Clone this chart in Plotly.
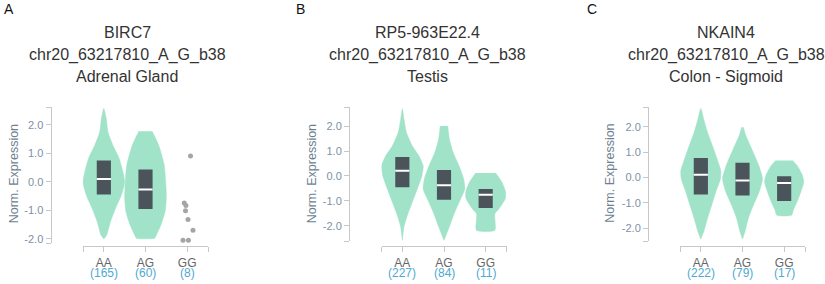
import plotly.graph_objects as go

# ---------------- data ----------------
genotypes = ["AA", "AG", "GG"]
titles_A = ["BIRC7", "chr20_63217810_A_G_b38", "Adrenal Gland"]
titles_B = ["RP5-963E22.4", "chr20_63217810_A_G_b38", "Testis"]
titles_C = ["NKAIN4", "chr20_63217810_A_G_b38", "Colon - Sigmoid"]
counts_A = [165, 60, 8]
counts_B = [227, 84, 11]
counts_C = [222, 79, 17]
y_ticks = [-2, -1, 0, 1, 2]
y_tick_labels = ["-2.0", "-1.0", "0.0", "1.0", "2.0"]

# violin outlines: expression level and half width (in category units)
vA_AA_y = [2.57, 2.20, 1.74, 1.27, 0.81, 0.0, -0.47, -0.93, -1.39, -1.86, -2.0]
vA_AA_w = [0, 0.06, 0.10, 0.22, 0.37, 0.50, 0.42, 0.28, 0.16, 0.07, 0]
vA_AG_y = [1.77, 1.27, 0.58, -0.12, -0.58, -1.04, -1.51, -1.86, -1.97]
vA_AG_w = [0.16, 0.32, 0.45, 0.49, 0.50, 0.47, 0.37, 0.26, 0.22]

vB_AA_y = [2.71, 2.29, 1.75, 1.21, 0.81, 0.41, 0.01, -0.52, -1.05, -1.59, -2.05, -2.59]
vB_AA_w = [0, 0.04, 0.10, 0.24, 0.40, 0.50, 0.47, 0.36, 0.24, 0.12, 0.04, 0]
vB_AG_y = [2.01, 1.48, 0.95, 0.41, -0.11, -0.52, -0.92, -1.45, -1.99, -2.59]
vB_AG_w = [0.09, 0.13, 0.22, 0.36, 0.47, 0.50, 0.40, 0.26, 0.14, 0]
vB_GG_y = [0.12, -0.25, -0.65, -0.92, -1.32, -1.52, -1.72, -2.19]
vB_GG_w = [0.24, 0.39, 0.48, 0.47, 0.32, 0.22, 0.22, 0.22]

vC_AA_y = [2.72, 2.30, 1.78, 1.25, 0.73, 0.27, -0.05, -0.57, -1.10, -1.62, -2.14, -2.43]
vC_AA_w = [0, 0.07, 0.16, 0.28, 0.39, 0.48, 0.47, 0.36, 0.26, 0.16, 0.07, 0]
vC_AG_y = [1.98, 1.65, 1.13, 0.47, -0.05, -0.57, -1.10, -1.62, -2.14, -2.43]
vC_AG_w = [0.02, 0.08, 0.22, 0.39, 0.48, 0.40, 0.26, 0.14, 0.06, 0]
vC_GG_y = [0.67, 0.47, 0.08, -0.18, -0.57, -0.96, -1.29, -1.49]
vC_GG_w = [0.20, 0.31, 0.44, 0.47, 0.40, 0.31, 0.22, 0.18]

# box statistics (q1, median, q3)
box_A_q1 = [-0.44, -0.95]
box_A_med = [0.10, -0.27]
box_A_q3 = [0.75, 0.43]
box_B_q1 = [-0.45, -0.96, -1.29]
box_B_med = [0.21, -0.37, -0.76]
box_B_q3 = [0.77, 0.24, -0.52]
box_C_q1 = [-0.67, -0.71, -0.93]
box_C_med = [0.11, -0.12, -0.22]
box_C_q3 = [0.77, 0.58, 0.05]

# GG samples in panel A (too few for a violin)
ptsA_GG_y = [0.90, -0.74, -0.83, -1.01, -1.32, -1.69, -2.04, -2.04]
ptsA_GG_dx = [0.08, -0.07, -0.03, -0.04, 0.02, 0.14, -0.10, 0.03]

# ---------------- styling / layout ----------------
W, H = 825, 284
FONT = "Liberation Sans, Arial, sans-serif"
MINT = "#a0e3c9"
DARK = "#4b535b"
AXIS = "#c8c8c8"
BOX_HALF = 0.17


def fx(p):
    return p / W


def fy(p):
    return 1 - p / H


panels = [
    dict(letter="A", letter_x=9, titles=titles_A, title_x=127, counts=counts_A,
         xdom=(83, 208), ydom=(108, 245), yaxis_x=50.5, yrange=(-2.15, 2.61), ylab_x=13.5,
         violins=[(0, vA_AA_y, vA_AA_w), (1, vA_AG_y, vA_AG_w)],
         boxes=([0, 1], box_A_q1, box_A_med, box_A_q3),
         points=(2, ptsA_GG_dx, ptsA_GG_y)),
    dict(letter="B", letter_x=300, titles=titles_B, title_x=427, counts=counts_B,
         xdom=(381.5, 506.5), ydom=(108, 243), yaxis_x=349, yrange=(-2.63, 2.77), ylab_x=311.5,
         violins=[(0, vB_AA_y, vB_AA_w), (1, vB_AG_y, vB_AG_w), (2, vB_GG_y, vB_GG_w)],
         boxes=([0, 1, 2], box_B_q1, box_B_med, box_B_q3), points=None),
    dict(letter="C", letter_x=592, titles=titles_C, title_x=726, counts=counts_C,
         xdom=(680, 805), ydom=(108, 243), yaxis_x=648, yrange=(-2.52, 2.77), ylab_x=610,
         violins=[(0, vC_AA_y, vC_AA_w), (1, vC_AG_y, vC_AG_w), (2, vC_GG_y, vC_GG_w)],
         boxes=([0, 1, 2], box_C_q1, box_C_med, box_C_q3), points=None),
]

fig = go.Figure()
annotations = []
layout_axes = {}

for k, p in enumerate(panels, start=1):
    xa = "x" if k == 1 else f"x{k}"
    ya = "y" if k == 1 else f"y{k}"
    xkey = "xaxis" if k == 1 else f"xaxis{k}"
    ykey = "yaxis" if k == 1 else f"yaxis{k}"

    for c, vy, vw in p["violins"]:
        xs = [c + w for w in vw] + [c - w for w in reversed(vw)]
        ys = list(vy) + list(reversed(vy))
        fig.add_trace(go.Scatter(x=xs, y=ys, mode="lines", fill="toself",
                                 fillcolor=MINT, line=dict(color=MINT, width=0.5, shape="spline", smoothing=0.6),
                                 xaxis=xa, yaxis=ya, showlegend=False, hoverinfo="skip"))

    bx, q1, med, q3 = p["boxes"]
    for c, a, m, b in zip(bx, q1, med, q3):
        fig.add_trace(go.Scatter(x=[c - BOX_HALF, c + BOX_HALF, c + BOX_HALF, c - BOX_HALF, c - BOX_HALF],
                                 y=[a, a, b, b, a], mode="lines", fill="toself",
                                 fillcolor=DARK, line=dict(color=DARK, width=0),
                                 xaxis=xa, yaxis=ya, showlegend=False, hoverinfo="skip"))
        fig.add_trace(go.Scatter(x=[c - BOX_HALF, c + BOX_HALF], y=[m, m], mode="lines",
                                 line=dict(color="white", width=2),
                                 xaxis=xa, yaxis=ya, showlegend=False, hoverinfo="skip"))

    if p["points"] is not None:
        c, dx, py = p["points"]
        fig.add_trace(go.Scatter(x=[c + d for d in dx], y=py, mode="markers",
                                 marker=dict(color="#a5a5a5", size=5),
                                 xaxis=xa, yaxis=ya, showlegend=False, hoverinfo="skip"))

    y0, y1 = p["yrange"]
    layout_axes[xkey] = dict(
        domain=[fx(p["xdom"][0]), fx(p["xdom"][1])], range=[-0.5, 2.5],
        anchor="free", position=fy(248), showline=True, linecolor=AXIS, linewidth=1,
        ticks="outside", ticklen=5, tickcolor=AXIS, tickwidth=1,
        tickvals=[-0.5, 0, 1, 2, 2.5], ticktext=[""] + genotypes + [""],
        tickfont=dict(family=FONT, size=12, color="#666666"),
        showgrid=False, zeroline=False, fixedrange=True)
    layout_axes[ykey] = dict(
        domain=[fy(p["ydom"][1]), fy(p["ydom"][0])], range=[y0, y1],
        anchor="free", position=fx(p["yaxis_x"]), side="left",
        showline=True, linecolor=AXIS, linewidth=1,
        ticks="outside", ticklen=5, tickcolor=AXIS, tickwidth=1,
        tickvals=[y0] + y_ticks + [y1], ticktext=[""] + y_tick_labels + [""],
        tickfont=dict(family=FONT, size=11, color="#7d91a6"),
        showgrid=False, zeroline=False, fixedrange=True)

    annotations.append(dict(text=p["letter"], x=fx(p["letter_x"]), y=fy(9), xref="paper", yref="paper",
                            xanchor="center", yanchor="middle", showarrow=False,
                            font=dict(family=FONT, size=14, color="#111111")))
    for line, ypx in zip(p["titles"], [33, 55, 77]):
        annotations.append(dict(text=line, x=fx(p["title_x"]), y=fy(ypx), xref="paper", yref="paper",
                                xanchor="center", yanchor="middle", showarrow=False,
                                font=dict(family=FONT, size=16, color="#333333")))
    annotations.append(dict(text="Norm. Expression", x=fx(p["ylab_x"]), y=fy(175), xref="paper", yref="paper",
                            xanchor="center", yanchor="middle", textangle=-90, showarrow=False,
                            font=dict(family=FONT, size=12.5, color="#6e7f91")))
    for i, n in enumerate(p["counts"]):
        annotations.append(dict(text=f"({n})", x=i, xref=xa, y=fy(275), yref="paper",
                                xanchor="center", yanchor="middle", showarrow=False,
                                font=dict(family=FONT, size=12, color="#4eaad0")))

fig.update_layout(
    width=W, height=H, margin=dict(l=0, r=0, t=0, b=0),
    paper_bgcolor="white", plot_bgcolor="white",
    showlegend=False, annotations=annotations, **layout_axes)

fig.write_html("out.html", config={"displayModeBar": False},
               post_script="document.body.style.margin='0';document.body.style.overflow='hidden';")
